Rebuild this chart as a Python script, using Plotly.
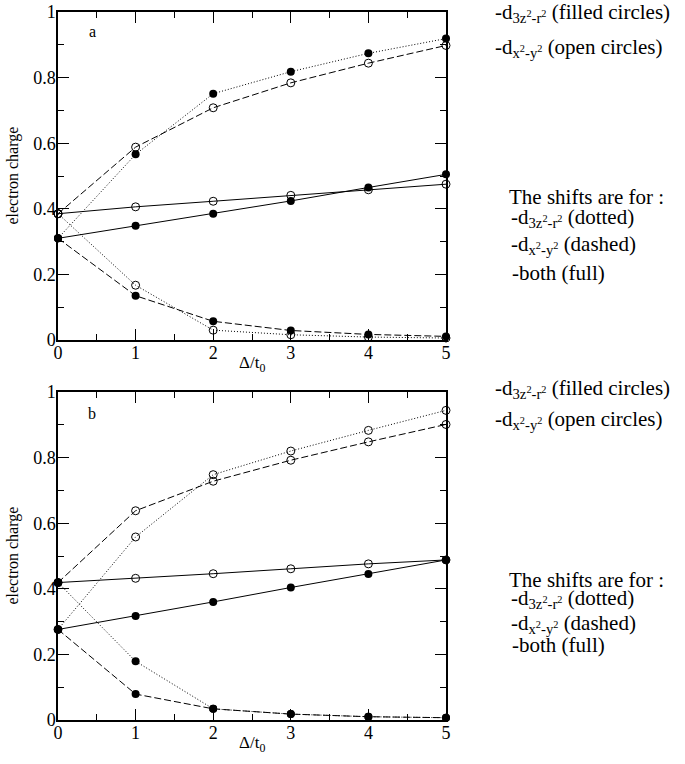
import plotly.graph_objects as go

# ---- data ----
x_vals = [0, 1, 2, 3, 4, 5]

# panel a
a_dot_filled = [0.310, 0.566, 0.751, 0.818, 0.874, 0.919]
a_dot_open = [0.385, 0.167, 0.030, 0.016, 0.009, 0.006]
a_dash_open = [0.385, 0.588, 0.708, 0.784, 0.844, 0.898]
a_dash_filled = [0.310, 0.135, 0.057, 0.029, 0.017, 0.011]
a_full_open = [0.385, 0.406, 0.423, 0.441, 0.458, 0.475]
a_full_filled = [0.310, 0.348, 0.385, 0.424, 0.465, 0.505]

# panel b
b_dot_open = [0.276, 0.558, 0.748, 0.820, 0.883, 0.944]
b_dot_filled = [0.419, 0.179, 0.034, 0.018, 0.010, 0.007]
b_dash_open = [0.419, 0.638, 0.728, 0.792, 0.848, 0.901]
b_dash_filled = [0.276, 0.079, 0.034, 0.018, 0.010, 0.007]
b_full_open = [0.419, 0.432, 0.446, 0.461, 0.476, 0.488]
b_full_filled = [0.276, 0.317, 0.360, 0.404, 0.445, 0.488]

x_ticks = [0, 1, 2, 3, 4, 5]
y_ticks = [0, 0.2, 0.4, 0.6, 0.8, 1]
y_tick_labels = ["0", "0.2", "0.4", "0.6", "0.8", "1"]

FONT = "'Liberation Serif', 'Times New Roman', 'DejaVu Serif', serif"
W, H = 685, 764
L, R, T, B = 57.5, 446, 12, 720

fig = go.Figure()

def add(y, dash, filled, xa, ya):
    marker = dict(size=8, color="black", symbol="circle") if filled else \
        dict(size=8, color="black", symbol="circle-open", line=dict(width=1, color="black"))
    fig.add_trace(go.Scatter(x=x_vals, y=y, mode="lines+markers",
                             line=dict(color="black", width=1, dash=dash),
                             marker=marker, xaxis=xa, yaxis=ya, showlegend=False,
                             cliponaxis=False))

DOT = "1px,2px"
DASH = "7px,3px"

for y, d in [(a_dot_open, DOT), (a_dash_open, DASH), (a_full_open, "solid")]:
    add(y, d, False, "x", "y")
for y, d in [(a_dot_filled, DOT), (a_dash_filled, DASH), (a_full_filled, "solid")]:
    add(y, d, True, "x", "y")
for y, d in [(b_dot_open, DOT), (b_dash_open, DASH), (b_full_open, "solid")]:
    add(y, d, False, "x2", "y2")
for y, d in [(b_dot_filled, DOT), (b_dash_filled, DASH), (b_full_filled, "solid")]:
    add(y, d, True, "x2", "y2")

ph = B - T
def py(p):
    return (B - p) / ph
def px(p):
    return (p - L) / (R - L)

top_dom = [py(340), 1.0]
bot_dom = [0.0, py(392)]

xaxis_common = dict(range=[0, 5], tickvals=x_ticks, ticktext=[str(v) for v in x_ticks],
                    ticks="inside", ticklen=11, tickwidth=1.2, tickcolor="black",
                    showline=True, linecolor="black", linewidth=1.5, mirror="ticks",
                    showgrid=False, zeroline=False, ticklabelstandoff=-4,
                    tickfont=dict(family=FONT, size=18, color="black"),
                    minor=dict(dtick=0.5, tick0=0, ticks="inside", ticklen=6, tickwidth=1.2,
                               tickcolor="black", showgrid=False))
yaxis_common = dict(range=[0, 1], tickvals=y_ticks, ticktext=y_tick_labels,
                    ticks="inside", ticklen=11, tickwidth=1.2, tickcolor="black",
                    showline=True, linecolor="black", linewidth=1.5, mirror="ticks",
                    showgrid=False, zeroline=False, ticklabelstandoff=-3,
                    tickfont=dict(family=FONT, size=18, color="black"),
                    minor=dict(dtick=0.1, tick0=0, ticks="inside", ticklen=6, tickwidth=1.2,
                               tickcolor="black", showgrid=False))

fig.update_layout(
    width=W, height=H,
    margin=dict(l=L, r=W - R, t=T, b=H - B, autoexpand=False),
    paper_bgcolor="white", plot_bgcolor="white",
    font=dict(family=FONT, color="black"),
    xaxis=dict(domain=[0, 1], anchor="y", **xaxis_common),
    yaxis=dict(domain=top_dom, anchor="x", **yaxis_common),
    xaxis2=dict(domain=[0, 1], anchor="y2", **xaxis_common),
    yaxis2=dict(domain=bot_dom, anchor="x2", **yaxis_common),
)

ann = []
def text(xp, yp, s, size=21, xanchor="left", angle=0):
    ann.append(dict(x=px(xp), y=py(yp), xref="paper", yref="paper", text=s,
                    showarrow=False, xanchor=xanchor, yanchor="middle", textangle=angle,
                    font=dict(family=FONT, size=size, color="black")))

D3 = "-d<sub>3z<sup>2</sup>-r<sup>2</sup></sub>"
DX = "-d<sub>x<sup>2</sup>-y<sup>2</sup></sub>"

# (line centres in pixels) top panel, bottom panel
legend_pos = [
    (13, 48, 197, 218, 245, 273),
    (389, 420, 580, 599, 624, 645),
]
for (l1, l2, s0, s1, s2, s3), off in zip(legend_pos, [0, 380]):
    text(493, l1, D3 + " (filled circles)")
    text(493, l2, DX + " (open circles)")
    text(507, s0, "The shifts are for :")
    text(509, s1, D3 + " (dotted)")
    text(509, s2, DX + " (dashed)")
    text(510, s3, "-both (full)")
    text(252, 364 + off, "Δ/t<sub>0</sub>", size=17, xanchor="center")
    text(12, 176 + off, "electron charge", size=16, xanchor="center", angle=-90)

text(92, 32, "a", size=16, xanchor="center")
text(92, 413, "b", size=16, xanchor="center")

fig.update_layout(annotations=ann)
fig.write_html("out.html", config={"displayModeBar": False},
               post_script="document.body.style.margin='0px';")
